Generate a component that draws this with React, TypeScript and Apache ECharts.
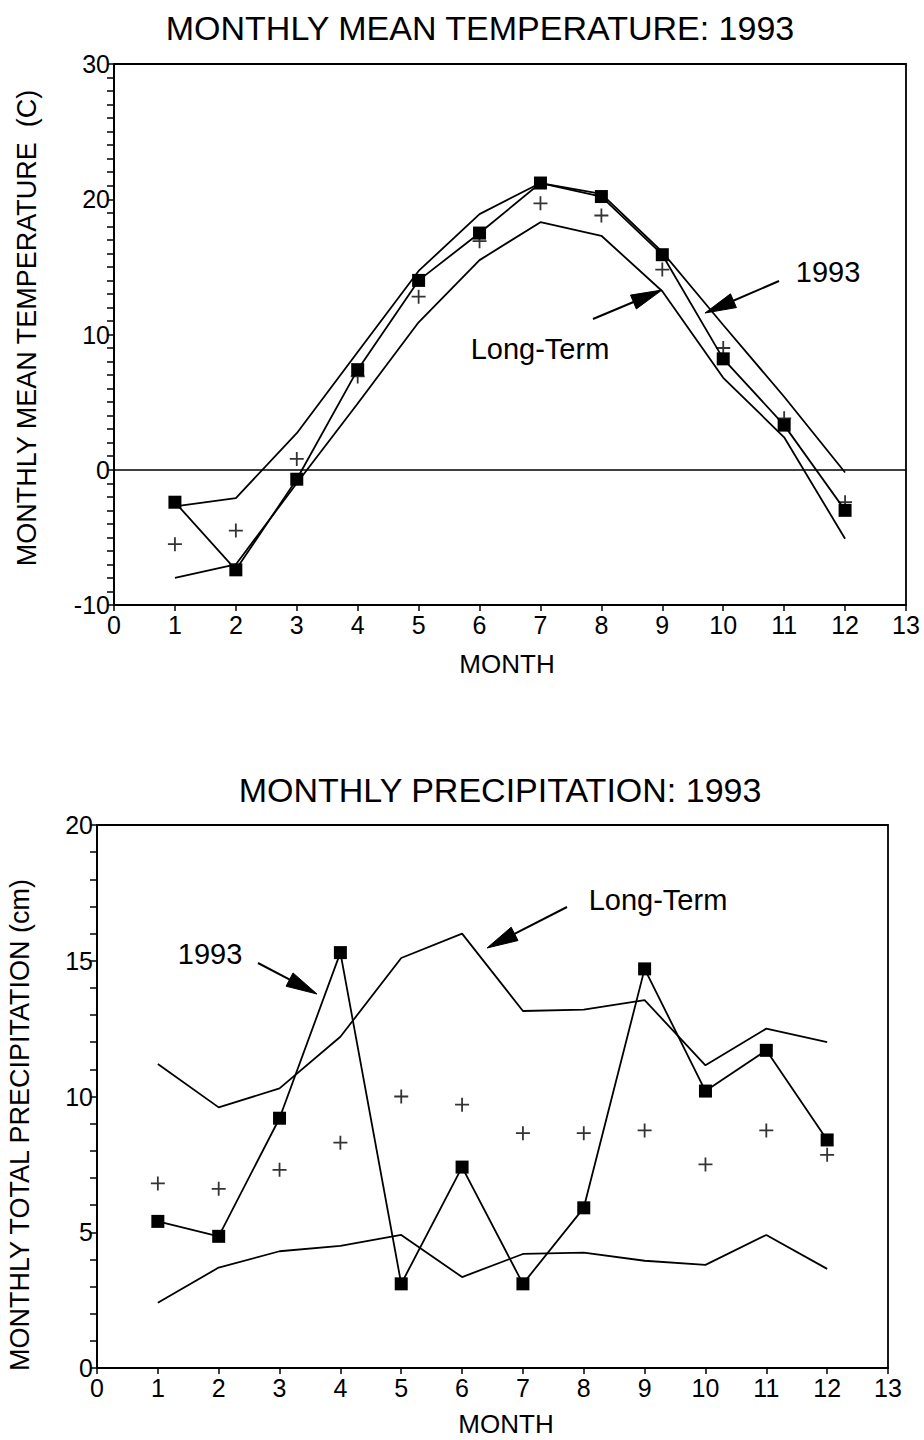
import React, { useEffect, useRef } from "react";
import * as echarts from "echarts";

const months = [1, 2, 3, 4, 5, 6, 7, 8, 9, 10, 11, 12];
const xTickLabels = ["0", "1", "2", "3", "4", "5", "6", "7", "8", "9", "10", "11", "12", "13"];
const tempTickLabels = ["-10", "0", "10", "20", "30"];
const precipTickLabels = ["0", "5", "10", "15", "20"];

// Monthly mean temperature (C)
const temp1993 = [-2.4, -7.4, -0.7, 7.4, 14.0, 17.5, 21.2, 20.2, 15.9, 8.2, 3.3, -3.0];
const tempLongTermMean = [-5.5, -4.5, 0.8, 6.9, 12.8, 16.9, 19.7, 18.8, 14.8, 9.0, 3.8, -2.4];
const tempLongTermUpper = [-2.7, -2.1, 2.7, 8.7, 14.7, 18.9, 21.2, 20.4, 16.1, 10.7, 5.4, -0.2];
const tempLongTermLower = [-8.0, -7.0, -1.0, 4.9, 10.9, 15.5, 18.3, 17.3, 13.2, 6.8, 2.4, -5.1];

// Monthly total precipitation (cm)
const precip1993 = [5.4, 4.85, 9.2, 15.3, 3.1, 7.4, 3.1, 5.9, 14.7, 10.2, 11.7, 8.4];
const precipLongTermMean = [6.8, 6.6, 7.3, 8.3, 10.0, 9.7, 8.65, 8.65, 8.75, 7.5, 8.75, 7.85];
const precipLongTermUpper = [11.2, 9.6, 10.3, 12.2, 15.1, 16.0, 13.15, 13.2, 13.55, 11.15, 12.5, 12.0];
const precipLongTermLower = [2.4, 3.7, 4.3, 4.5, 4.9, 3.35, 4.2, 4.25, 3.95, 3.8, 4.9, 3.65];

const FONT = "'Liberation Sans', Arial, Helvetica, sans-serif";
const PLUS = "path://M6.1,0H7.9V6.1H14V7.9H7.9V14H6.1V7.9H0V6.1H6.1Z";

const pairs = (arr: number[]) => months.map((m, i) => [m, arr[i]]);

function arrow(x1: number, y1: number, x2: number, y2: number) {
  const dx = x2 - x1;
  const dy = y2 - y1;
  const len = Math.sqrt(dx * dx + dy * dy);
  const ux = dx / len;
  const uy = dy / len;
  const headLen = 31;
  const half = 7.5;
  const bx = x2 - ux * headLen;
  const by = y2 - uy * headLen;
  const px = -uy * half;
  const py = ux * half;
  return {
    type: "group",
    children: [
      {
        type: "line",
        shape: { x1, y1, x2: bx + ux * 4, y2: by + uy * 4 },
        style: { stroke: "#000", lineWidth: 2 },
      },
      {
        type: "polygon",
        shape: {
          points: [
            [x2, y2],
            [bx + px, by + py],
            [bx - px, by - py],
          ],
        },
        style: { fill: "#000", stroke: "#000", lineWidth: 1 },
      },
    ],
  };
}

function text(t: string, x: number, y: number, size: number, rotation = 0) {
  return {
    type: "text",
    x,
    y,
    rotation,
    style: {
      text: t,
      fill: "#000",
      font: `${size}px ${FONT}`,
      textAlign: "center",
      textVerticalAlign: "middle",
    },
  };
}

function xAxisFor(gridIndex: number) {
  return {
    type: "value",
    gridIndex,
    min: 0,
    max: 13,
    interval: 1,
    axisLine: { show: true, onZero: false, lineStyle: { color: "#000", width: 1.8 } },
    axisTick: { show: true, inside: false, length: 6, lineStyle: { color: "#000", width: 1.5 } },
    axisLabel: {
      color: "#000",
      fontSize: 25,
      fontFamily: FONT,
      margin: 7,
      formatter: (v: number) => xTickLabels[Math.round(v)],
    },
    splitLine: { show: false },
  };
}

// ticks every 1 unit (as in the reference), labels only every `labelEvery`
function yAxisFor(gridIndex: number, min: number, max: number, labelEvery: number, labels: string[]) {
  return {
    type: "value",
    gridIndex,
    min,
    max,
    interval: 1,
    axisLine: { show: true, onZero: false, lineStyle: { color: "#000", width: 1.8 } },
    axisTick: { show: true, inside: false, length: 7, lineStyle: { color: "#000", width: 1.5 } },
    axisLabel: {
      color: "#000",
      fontSize: 25,
      fontFamily: FONT,
      margin: 4,
      showMinLabel: true,
      showMaxLabel: true,
      formatter: (v: number) => {
        const r = Math.round(v);
        if ((r - min) % labelEvery !== 0) return "";
        return labels[(r - min) / labelEvery] ?? "";
      },
    },
    splitLine: { show: false },
  };
}

const lineStyle = { color: "#000", width: 1.8 };

export default function App() {
  const ref = useRef<HTMLDivElement>(null);

  useEffect(() => {
    if (!ref.current) return;
    const chart = echarts.init(ref.current, null, { renderer: "svg" });

    const option: any = {
      animation: false,
      backgroundColor: "#fff",
      textStyle: { fontFamily: FONT },
      grid: [
        {
          left: 114,
          top: 64,
          width: 792,
          height: 541,
          show: true,
          borderColor: "#000",
          borderWidth: 1.8,
          backgroundColor: "transparent",
        },
        {
          left: 97,
          top: 825,
          width: 791,
          height: 543,
          show: true,
          borderColor: "#000",
          borderWidth: 1.8,
          backgroundColor: "transparent",
        },
      ],
      xAxis: [xAxisFor(0), xAxisFor(1)],
      yAxis: [yAxisFor(0, -10, 30, 10, tempTickLabels), yAxisFor(1, 0, 20, 5, precipTickLabels)],
      series: [
        {
          name: "Long-Term upper",
          type: "line",
          xAxisIndex: 0,
          yAxisIndex: 0,
          data: pairs(tempLongTermUpper),
          symbol: "none",
          lineStyle,
          markLine: {
            silent: true,
            symbol: "none",
            label: { show: false },
            lineStyle: { color: "#000", width: 1.5, type: "solid" },
            data: [{ yAxis: 0 }],
          },
        },
        {
          name: "Long-Term lower",
          type: "line",
          xAxisIndex: 0,
          yAxisIndex: 0,
          data: pairs(tempLongTermLower),
          symbol: "none",
          lineStyle,
        },
        {
          name: "1993",
          type: "line",
          xAxisIndex: 0,
          yAxisIndex: 0,
          data: pairs(temp1993),
          symbol: "rect",
          symbolSize: 13,
          itemStyle: { color: "#000" },
          lineStyle,
        },
        {
          name: "Long-Term mean",
          type: "scatter",
          xAxisIndex: 0,
          yAxisIndex: 0,
          data: pairs(tempLongTermMean),
          symbol: PLUS,
          symbolSize: 14,
          itemStyle: { color: "#000" },
        },
        {
          name: "Long-Term upper (precip)",
          type: "line",
          xAxisIndex: 1,
          yAxisIndex: 1,
          data: pairs(precipLongTermUpper),
          symbol: "none",
          lineStyle,
        },
        {
          name: "Long-Term lower (precip)",
          type: "line",
          xAxisIndex: 1,
          yAxisIndex: 1,
          data: pairs(precipLongTermLower),
          symbol: "none",
          lineStyle,
        },
        {
          name: "1993 (precip)",
          type: "line",
          xAxisIndex: 1,
          yAxisIndex: 1,
          data: pairs(precip1993),
          symbol: "rect",
          symbolSize: 13,
          itemStyle: { color: "#000" },
          lineStyle,
        },
        {
          name: "Long-Term mean (precip)",
          type: "scatter",
          xAxisIndex: 1,
          yAxisIndex: 1,
          data: pairs(precipLongTermMean),
          symbol: PLUS,
          symbolSize: 14,
          itemStyle: { color: "#000" },
        },
      ],
      graphic: [
        text("MONTHLY MEAN TEMPERATURE: 1993", 480, 28, 34),
        text("MONTHLY PRECIPITATION: 1993", 500, 790, 34),
        text("MONTHLY MEAN TEMPERATURE  (C)", 27, 328, 27, Math.PI / 2),
        text("MONTHLY TOTAL PRECIPITATION (cm)", 20, 1125, 27, Math.PI / 2),
        text("MONTH", 507, 664, 26),
        text("MONTH", 506, 1424, 26),
        text("1993", 828, 272, 29),
        text("Long-Term", 540, 349, 29),
        text("1993", 210, 954, 29),
        text("Long-Term", 658, 900, 29),
        arrow(779, 281, 705, 313),
        arrow(593, 319, 662, 290),
        arrow(258, 963, 317, 994),
        arrow(567, 907, 487, 948),
      ],
    };

    chart.setOption(option);
    return () => chart.dispose();
  }, []);

  return (
    <div
      ref={ref}
      style={{ position: "absolute", left: 0, top: 0, width: 924, height: 1440, background: "#fff" }}
    />
  );
}
